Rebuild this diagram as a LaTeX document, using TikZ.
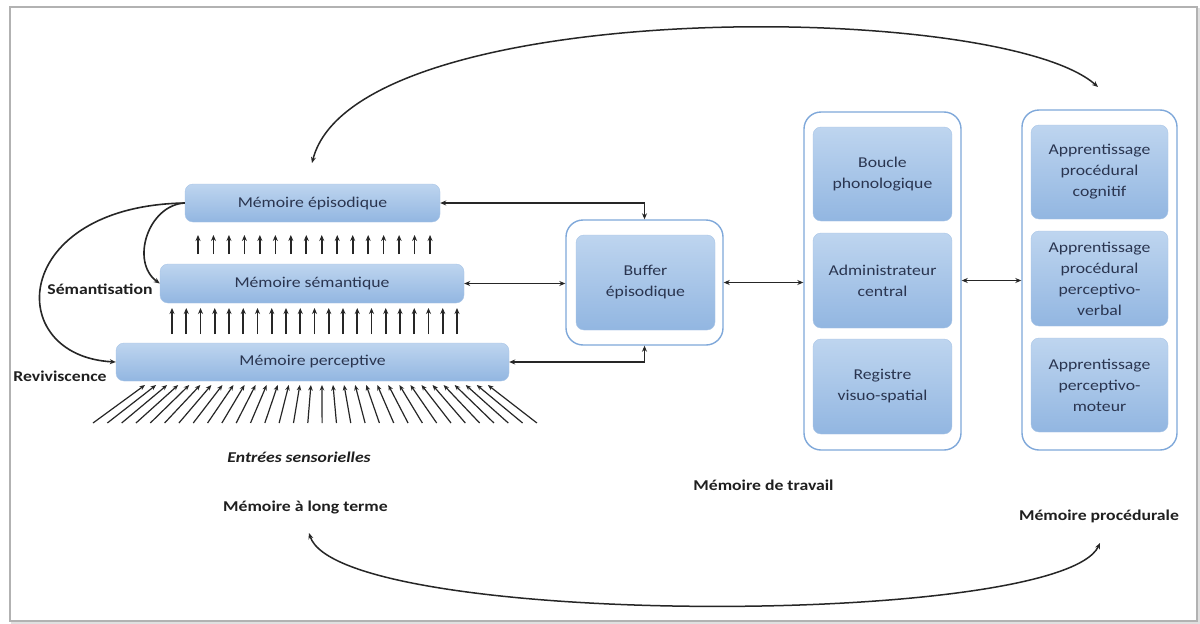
\documentclass[tikz,border=0pt]{standalone}
\usepackage{fontspec}
\setmainfont{Carlito}[FakeStretch=1.18]
\usetikzlibrary{arrows.meta}
\definecolor{txt}{HTML}{2A3550}
\definecolor{boxtop}{HTML}{BED5EF}
\definecolor{boxbot}{HTML}{92B6E1}
\definecolor{outline}{HTML}{7FA8DA}
\definecolor{lin}{HTML}{262626}
\begin{document}
\begin{tikzpicture}[x=1pt,y=-1pt,
  inbox/.style={rounded corners=8pt, top color=boxtop, bottom color=boxbot, draw=boxbot!80!white, line width=0.4pt, text=txt, font=\fontsize{15}{21}\selectfont, align=center, inner sep=0pt},
  outbox/.style={rounded corners=17pt, draw=outline, line width=1.4pt, fill=white, inner sep=0pt},
  lbl/.style={font=\fontsize{15}{18}\selectfont\bfseries, text=black!88, inner sep=0pt},
  conn/.style={draw=lin, line width=1.5pt, {Stealth[length=6pt,width=5pt]}-{Stealth[length=6pt,width=5pt]}},
  up/.style={draw=lin, line width=1.6pt, -{Stealth[length=6pt,width=5pt]}},
  fan/.style={draw=lin, line width=1.2pt, -{Stealth[length=5.5pt,width=4.5pt]}},
]
\useasboundingbox (0,0) rectangle (1200,624);
% frame
\draw[black!12, line width=3pt] (12,9) rectangle (1199,623);
\draw[black!30, line width=1.3pt, fill=white] (10,7) rectangle (1197,621);

% long-term memory boxes
\node[inbox, minimum width=255, minimum height=38] (epi) at (312.5,203) {Mémoire épisodique};
\node[inbox, minimum width=304, minimum height=39] (sem) at (312,283.5) {Mémoire sémantique};
\node[inbox, minimum width=393, minimum height=38] (per) at (312.5,362) {Mémoire perceptive};

% episodic buffer
\node[outbox, minimum width=157, minimum height=125] (bufo) at (644.5,282.5) {};
\node[inbox, minimum width=139, minimum height=95] (buf) at (645.5,282.5) {Buffer\\épisodique};

% working memory
\node[outbox, minimum width=157, minimum height=338] (wmo) at (882.5,281) {};
\node[inbox, minimum width=139, minimum height=94] (bou) at (882.5,174) {Boucle\\phonologique};
\node[inbox, minimum width=139, minimum height=95] (adm) at (882.5,280.5) {Administrateur\\central};
\node[inbox, minimum width=139, minimum height=95] (reg) at (882.5,386.5) {Registre\\visuo-spatial};

% procedural memory
\node[outbox, minimum width=155, minimum height=340] (pro) at (1099.5,280) {};
\node[inbox, minimum width=137, minimum height=94] (pc) at (1099.5,172) {Apprentissage\\procédural\\cognitif};
\node[inbox, minimum width=137, minimum height=95] (pv) at (1099.5,278.5) {Apprentissage\\procédural\\perceptivo-\\verbal};
\node[inbox, minimum width=137, minimum height=94] (pm) at (1099.5,385) {Apprentissage\\perceptivo-\\moteur};

% connectors
\draw[conn] (epi.east) -| (bufo.north);
\draw[conn] (per.east) -| (bufo.south);
\draw[conn] (sem.east) -- (sem.east -| bufo.west);
\draw[conn] (bufo.east) -- (wmo.west |- bufo.east);
\draw[conn] (wmo.east |- adm) -- (pro.west |- adm);

\draw[up] (epi.west) .. controls (148,205) and (130,262) .. (sem.west);
\draw[up] (epi.west) .. controls (10,206) and (2,356) .. (per.west);

% vertical arrays of arrows
\foreach \i in {0,...,15} \draw[up] ({198+\i*15.47},254) -- ++(0,-19);
\foreach \i in {0,...,20} \draw[up] ({172+\i*14.25},334) -- ++(0,-26);
\foreach \i in {0,...,31} \draw[fan] ({93+\i*14.32},423) -- ({145+\i*11.06},385);

% big arcs
\coordinate (lta) at (312,163);
\coordinate (pra) at (1098,87);
\draw[conn] (lta) .. controls (355,-5) and (1000,0) .. (pra);
\coordinate (ltb) at (309,533);
\coordinate (prb) at (1100,543);
\draw[conn] (ltb) .. controls (340,628) and (1060,628) .. (prb);

% labels
\node[lbl] (sema) at (100,289) {Sémantisation};
\node[lbl] (rev) at (60,376) {Reviviscence};
\node[lbl, font=\fontsize{15}{18}\selectfont\bfseries\itshape] (ent) at (299,457) {Entrées sensorielles};
\node[lbl] (mlt) at (305.5,508) {Mémoire à long terme};
\node[lbl] (mdt) at (763.5,485) {Mémoire de travail};
\node[lbl] (mpr) at (1099,516) {Mémoire procédurale};
\end{tikzpicture}
\end{document}
